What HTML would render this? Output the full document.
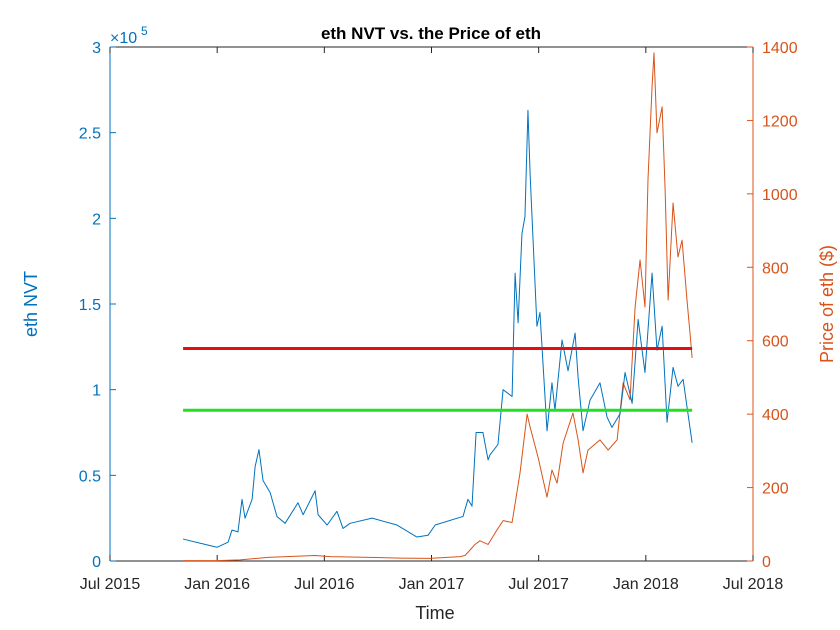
<!DOCTYPE html>
<html><head><meta charset="utf-8"><style>
body{margin:0;background:#fff;}
svg{display:block;font-family:"Liberation Sans",Arial,sans-serif;}
</style></head><body>
<svg id="chart" width="840" height="630" viewBox="0 0 840 630" xmlns="http://www.w3.org/2000/svg"></svg>
<script>
// ---- data ----
const nvtDates=[2015.841,2015.934,2015.999,2016.051,2016.069,2016.097,2016.116,2016.130,2016.163,2016.177,2016.195,2016.214,2016.247,2016.279,2016.317,2016.377,2016.401,2016.457,2016.471,2016.513,2016.559,2016.587,2016.620,2016.723,2016.839,2016.932,2016.984,2017.017,2017.147,2017.170,2017.189,2017.208,2017.240,2017.264,2017.273,2017.310,2017.334,2017.376,2017.390,2017.404,2017.422,2017.436,2017.450,2017.460,2017.474,2017.492,2017.506,2017.539,2017.562,2017.576,2017.609,2017.637,2017.670,2017.684,2017.707,2017.740,2017.786,2017.819,2017.842,2017.880,2017.903,2017.936,2017.964,2017.996,2018.029,2018.052,2018.076,2018.099,2018.127,2018.150,2018.174,2018.192,2018.216];
const nvtValues=[12800,10000,8000,11000,18000,17000,36000,25000,36000,55000,65000,47000,40000,26000,22000,34000,27000,41000,27000,21000,29000,19000,22000,25000,21000,14000,15000,21000,26000,36000,32000,75000,75000,59000,62000,68000,100000,96000,168000,139000,191000,201000,263000,226000,187000,137000,145000,76000,104000,88000,129000,111000,133000,107000,76000,94000,104000,84000,78000,86000,110000,92000,141000,110000,168000,123000,137000,81000,113000,102000,106000,90000,69000];
const priceDates=[2015.841,2016.000,2016.107,2016.237,2016.457,2016.527,2016.853,2016.993,2017.133,2017.156,2017.180,2017.203,2017.226,2017.264,2017.306,2017.334,2017.376,2017.413,2017.446,2017.460,2017.497,2017.539,2017.562,2017.586,2017.614,2017.660,2017.684,2017.707,2017.730,2017.786,2017.824,2017.866,2017.894,2017.926,2017.950,2017.973,2017.996,2018.010,2018.029,2018.038,2018.052,2018.076,2018.090,2018.104,2018.127,2018.150,2018.169,2018.192,2018.206,2018.216];
const priceValues=[1,1,3,10,15,12,8,7,12,15,30,45,55,45,85,110,105,240,400,365,283,174,248,212,321,403,330,240,302,330,302,330,485,439,692,820,692,1038,1291,1384,1166,1237,1011,711,975,828,874,711,621,553];
const redLevel=124000, greenLevel=88000, lineStart=2015.841, lineEnd=2018.216;
const xTicks=[2015.5,2016,2016.5,2017,2017.5,2018,2018.5];
const xTickLabels=["Jul 2015","Jan 2016","Jul 2016","Jan 2017","Jul 2017","Jan 2018","Jul 2018"];
const yLTicks=[0,0.5,1,1.5,2,2.5,3];
const yLTickLabels=["0","0.5","1","1.5","2","2.5","3"];
const yRTicks=[0,200,400,600,800,1000,1200,1400];

// ---- layout ----
const L=110,R=753,T=47,B=561;
const X=t=>L+(t-2015.5)/3*(R-L);
const YL=v=>B-v/3e5*(B-T);
const YR=v=>B-v/1400*(B-T);
const BLUE="#0072BD",ORANGE="#D95319";
const svg=document.getElementById('chart');
const NS="http://www.w3.org/2000/svg";
function mk(tag,attrs,text){const e=document.createElementNS(NS,tag);for(const k in attrs)e.setAttribute(k,attrs[k]);if(text!==undefined)e.textContent=text;svg.appendChild(e);return e;}

// axes box
let e;
e=mk('line',{x1:L,y1:T,x2:R,y2:T,stroke:'#262626','stroke-width':1});

e=mk('line',{x1:L,y1:B,x2:R,y2:B,stroke:'#262626','stroke-width':1});

e=mk('line',{x1:L,y1:T,x2:L,y2:B,stroke:BLUE,'stroke-width':1});

e=mk('line',{x1:R,y1:T,x2:R,y2:B,stroke:ORANGE,'stroke-width':1});


xTicks.forEach((t,i)=>{
  const x=X(t);
  e=mk('line',{x1:x,y1:B,x2:x,y2:B-6,stroke:'#262626'});
  
  e=mk('line',{x1:x,y1:T,x2:x,y2:T+6,stroke:'#262626'});
  
  e=mk('text',{x:x,y:B+28,'text-anchor':'middle','font-size':16,fill:'#262626'},xTickLabels[i]);
  
});
yLTicks.forEach((v,i)=>{
  const y=YL(v*1e5);
  e=mk('line',{x1:L,y1:y,x2:L+6,y2:y,stroke:BLUE});
  
  e=mk('text',{x:L-9,y:y+6,'text-anchor':'end','font-size':16,fill:BLUE},yLTickLabels[i]);
  
});
yRTicks.forEach(v=>{
  const y=YR(v);
  e=mk('line',{x1:R-6,y1:y,x2:R,y2:y,stroke:ORANGE});
  
  e=mk('text',{x:R+9,y:y+6,'text-anchor':'start','font-size':16,fill:ORANGE},String(v));
  
});

// exponent
e=mk('text',{x:L,y:43,'font-size':16,fill:BLUE},'×10');

e=mk('text',{x:L+31,y:35,'font-size':12,fill:BLUE},'5');


// series
e=mk('polyline',{points:priceDates.map((t,i)=>X(t)+','+YR(priceValues[i])).join(' '),fill:'none',stroke:ORANGE,'stroke-width':1,'stroke-linejoin':'round'});

e=mk('polyline',{points:nvtDates.map((t,i)=>X(t)+','+YL(nvtValues[i])).join(' '),fill:'none',stroke:BLUE,'stroke-width':1,'stroke-linejoin':'round'});

e=mk('line',{x1:X(lineStart),y1:YL(redLevel),x2:X(lineEnd),y2:YL(redLevel),stroke:'#e01010','stroke-width':3});

e=mk('line',{x1:X(lineStart),y1:YL(greenLevel),x2:X(lineEnd),y2:YL(greenLevel),stroke:'#22e022','stroke-width':3});


// titles
e=mk('text',{x:431,y:39,'text-anchor':'middle','font-size':17,'font-weight':'bold',fill:'#000'},'eth NVT vs. the Price of eth');

e=mk('text',{x:435,y:619,'text-anchor':'middle','font-size':18,fill:'#262626'},'Time');

e=mk('text',{x:0,y:0,'text-anchor':'middle','font-size':18,fill:BLUE,transform:'translate(37,304) rotate(-90)'},'eth NVT');

e=mk('text',{x:0,y:0,'text-anchor':'middle','font-size':18,fill:ORANGE,transform:'translate(833,304) rotate(-90)'},'Price of eth ($)');

</script>
</body></html>
